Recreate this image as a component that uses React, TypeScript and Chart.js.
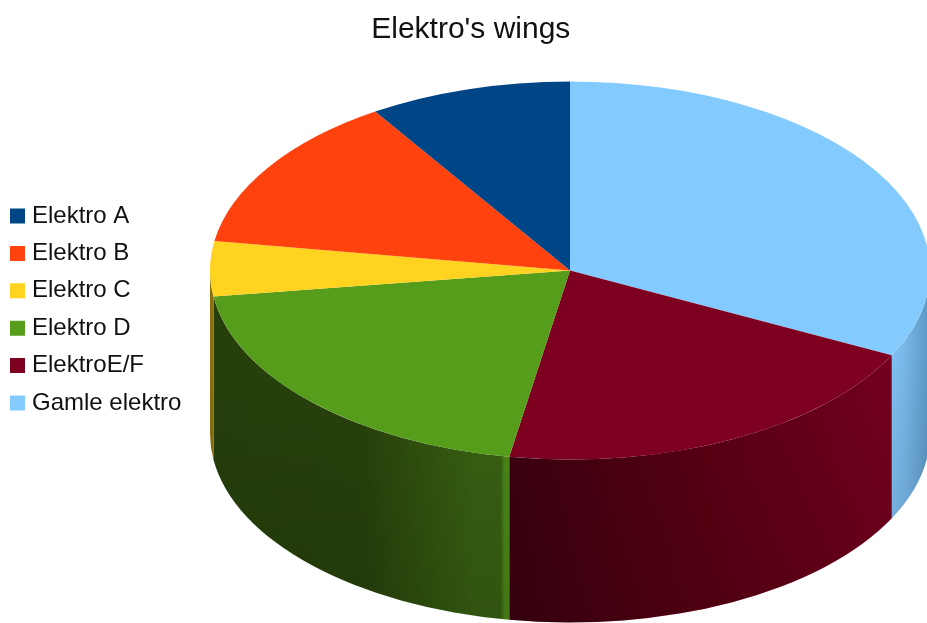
import React, { useEffect, useRef } from "react";
import { Chart, registerables, Plugin } from "chart.js";

Chart.register(...registerables);

// Slices run clockwise from twelve o'clock; the legend lists them the other way round.
const categories = ["Gamle elektro", "ElektroE/F", "Elektro D", "Elektro C", "Elektro B", "Elektro A"];
const shares = [32.4, 20.3, 20.1, 4.7, 13.4, 9.1];
const faceColors = ["#83caff", "#7e0021", "#579d1c", "#ffd320", "#ff420e", "#004586"];

// Horizontal shading of each slice's rim, left to right across the slice.
const rimShades: [number, string][][] = [
  [[0, "#80c0f2"], [0.35, "#78b6e6"], [1, "#5a96c2"]],
  [[0, "#3c0010"], [0.5, "#5a0013"], [1, "#74001d"]],
  [[0, "#27400b"], [0.5, "#28420b"], [0.88, "#386212"], [0.97, "#386212"], [0.985, "#4c8a18"], [1, "#4c8a18"]],
  [[0, "#8a7010"], [1, "#8a7010"]],
  [[0, "#80210a"], [1, "#80210a"]],
  [[0, "#002343"], [1, "#002343"]],
];

const CENTER_X = 570;
const CENTER_Y = 270.5;
const RADIUS_X = 360;
const RADIUS_Y = 189;
const DEPTH = 163;

// Draws the cylinder wall under the pie, following the visible lower half of each arc.
const pieWall: Plugin<"pie"> = {
  id: "pieWall",
  afterLayout(chart) {
    const block = (chart as any).titleBlock;
    if (block) {
      block.left += 6.5;
      block.right += 6.5;
    }
  },
  beforeDatasetsDraw(chart) {
    const ctx = chart.ctx;
    const arcs = chart.getDatasetMeta(0).data as any[];
    arcs.forEach((arc, i) => {
      const from = Math.max(arc.startAngle, 0);
      const to = Math.min(arc.endAngle, Math.PI);
      if (to <= from) return;
      const x0 = CENTER_X + RADIUS_X * Math.cos(to);
      const x1 = CENTER_X + RADIUS_X * Math.cos(from);
      const trace = () => {
        ctx.beginPath();
        ctx.ellipse(CENTER_X, CENTER_Y, RADIUS_X, RADIUS_Y, 0, from, to);
        ctx.ellipse(CENTER_X, CENTER_Y + DEPTH, RADIUS_X, RADIUS_Y, 0, to, from, true);
        ctx.closePath();
      };
      const across = ctx.createLinearGradient(x0, 0, x1, 0);
      rimShades[i].forEach(([at, color]) => across.addColorStop(at, color));
      ctx.fillStyle = across;
      trace();
      ctx.fill();
      const down = ctx.createLinearGradient(0, CENTER_Y + 80, 0, CENTER_Y + RADIUS_Y + DEPTH);
      down.addColorStop(0, "rgba(0,0,0,0)");
      down.addColorStop(1, "rgba(0,0,0,0.14)");
      ctx.fillStyle = down;
      trace();
      ctx.fill();
    });

    // Squash the round pie into the ellipse of the top face.
    const first = arcs[0];
    ctx.save();
    ctx.translate(CENTER_X, CENTER_Y);
    ctx.scale(1, RADIUS_Y / RADIUS_X);
    ctx.translate(-first.x, -first.y);
  },
  afterDatasetsDraw(chart) {
    chart.ctx.restore();
  },
};

export default function App() {
  const canvasRef = useRef<HTMLCanvasElement>(null);

  useEffect(() => {
    const chart = new Chart(canvasRef.current!, {
      type: "pie",
      data: {
        labels: categories,
        datasets: [{ data: shares, backgroundColor: faceColors, borderWidth: 0 }],
      },
      options: {
        animation: false,
        responsive: false,
        radius: RADIUS_X,
        layout: { padding: { left: 1.6, top: 0, right: 0, bottom: 4 } },
        plugins: {
          title: {
            display: true,
            text: "Elektro's wings",
            color: "#111111",
            font: { family: "'Liberation Sans'", size: 30, weight: "normal" },
            padding: { top: 12, bottom: 10 },
          },
          tooltip: { enabled: false },
          legend: {
            position: "left",
            reverse: true,
            labels: {
              color: "#111111",
              font: { family: "'Liberation Sans'", size: 24 },
              usePointStyle: true,
              pointStyle: "rect",
              boxWidth: 5,
              boxHeight: 15,
              padding: 13.4,
            },
          },
        },
      },
      plugins: [pieWall],
    } as any);
    return () => chart.destroy();
  }, []);

  return (
    <canvas
      ref={canvasRef}
      width={927}
      height={623}
      style={{ position: "fixed", left: 0, top: 0, display: "block", background: "#ffffff" }}
    />
  );
}
